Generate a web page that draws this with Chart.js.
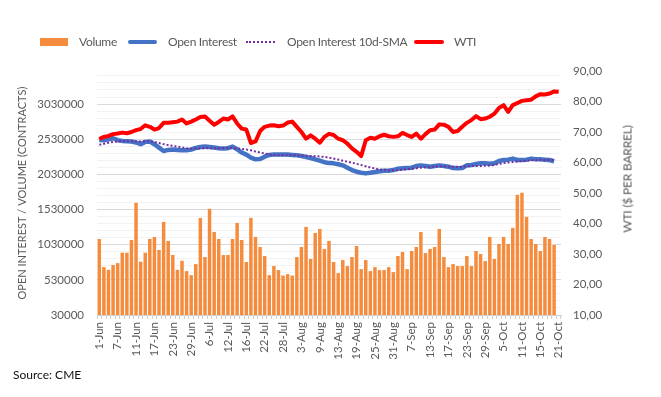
<!DOCTYPE html>
<html>
<head>
<meta charset="utf-8">
<script src="https://cdn.jsdelivr.net/npm/chart.js@4.4.1/dist/chart.umd.min.js"></script>
<style>
  body { margin: 0; background: #fff; font-family: Lato, "Liberation Sans", sans-serif; }
  #wrap { position: relative; width: 661px; height: 397px; }
  canvas { position: absolute; left: 0; top: 0; }
  .lg { position: absolute; font-size: 12px; letter-spacing: -0.3px; color: #595959; line-height: 14px; top: 35px; white-space: nowrap; }
  .sw { position: absolute; }
  #rtitle { position: absolute; left: 627px; top: 179px; font-size: 12px; color: #595959; white-space: nowrap;
            letter-spacing: -0.2px; transform: translate(-50%, -50%) rotate(-90deg); }
  #source { position: absolute; left: 13px; top: 367px; font-size: 12px; color: #111; }
</style>
</head>
<body>
<div id="wrap">
  <canvas id="chart" width="661" height="397"></canvas>
  <div class="sw" style="left:40px;top:38px;width:28px;height:8px;background:#f58c3d"></div>
  <div class="lg" style="left:79px">Volume</div>
  <div class="sw" style="left:128px;top:40px;width:29px;height:4px;border-radius:2px;background:#4472c4"></div>
  <div class="lg" style="left:168px">Open Interest</div>
  <div class="sw" style="left:246px;top:41px;width:29px;height:0;border-top:2px dotted #7030a0"></div>
  <div class="lg" style="left:287px">Open Interest 10d-SMA</div>
  <div class="sw" style="left:414px;top:40px;width:30px;height:4px;border-radius:2px;background:#ff0000"></div>
  <div class="lg" style="left:454px">WTI</div>
  <div id="rtitle">WTI ($ PER BARREL)</div>
  <div id="source">Source: CME</div>
</div>
<script>
// trading days 1-Jun .. 21-Oct
const dates = [
  '1-Jun','2-Jun','3-Jun','4-Jun','7-Jun','8-Jun','9-Jun','10-Jun','11-Jun','14-Jun','15-Jun','16-Jun','17-Jun','18-Jun',
  '21-Jun','22-Jun','23-Jun','24-Jun','25-Jun','28-Jun','29-Jun','30-Jun',
  '1-Jul','2-Jul','6-Jul','7-Jul','8-Jul','9-Jul','12-Jul','13-Jul','14-Jul','15-Jul','16-Jul','19-Jul','20-Jul','21-Jul',
  '22-Jul','23-Jul','26-Jul','27-Jul','28-Jul','29-Jul','30-Jul',
  '2-Aug','3-Aug','4-Aug','5-Aug','6-Aug','9-Aug','10-Aug','11-Aug','12-Aug','13-Aug','16-Aug','17-Aug','18-Aug','19-Aug',
  '20-Aug','23-Aug','24-Aug','25-Aug','26-Aug','27-Aug','30-Aug','31-Aug',
  '1-Sep','2-Sep','3-Sep','7-Sep','8-Sep','9-Sep','10-Sep','13-Sep','14-Sep','15-Sep','16-Sep','17-Sep','20-Sep','21-Sep',
  '22-Sep','23-Sep','24-Sep','27-Sep','28-Sep','29-Sep','30-Sep',
  '1-Oct','4-Oct','5-Oct','6-Oct','7-Oct','8-Oct','11-Oct','12-Oct','13-Oct','14-Oct','15-Oct','18-Oct','19-Oct','20-Oct','21-Oct'
];

// contracts
const volume = [
  1111000, 711000, 673000, 740000, 768000, 916000, 916000, 1097000, 1626000, 787000,
  916000, 1111000, 1140000, 954000, 1354000, 1083000, 883000, 673000, 801000, 654000,
  597000, 754000, 1411000, 854000, 1540000, 1211000, 1111000, 883000, 883000, 1111000,
  1340000, 1097000, 783000, 1411000, 1140000, 997000, 869000, 597000, 726000, 669000,
  591000, 611000, 591000, 854000, 997000, 1283000, 826000, 1197000, 1254000, 969000,
  1083000, 783000, 626000, 811000, 726000, 854000, 1011000, 683000, 811000, 654000,
  711000, 669000, 669000, 711000, 640000, 869000, 926000, 683000, 940000, 997000,
  1211000, 911000, 969000, 997000, 1254000, 854000, 711000, 754000, 726000, 726000,
  869000, 726000, 940000, 897000, 797000, 1140000, 826000, 1040000, 1140000, 1040000,
  1269000, 1740000, 1769000, 1426000, 1111000, 1040000, 940000, 1140000, 1111000, 1026000,
  null
];

const openInterest = [
  2520000, 2516000, 2530000, 2544000, 2516000, 2506000, 2501000, 2497000, 2483000, 2459000,
  2492000, 2497000, 2459000, 2411000, 2363000, 2378000, 2382000, 2378000, 2373000, 2373000,
  2382000, 2406000, 2420000, 2425000, 2420000, 2411000, 2402000, 2397000, 2402000, 2425000,
  2387000, 2340000, 2311000, 2268000, 2244000, 2249000, 2282000, 2306000, 2311000, 2311000,
  2311000, 2311000, 2306000, 2301000, 2292000, 2278000, 2263000, 2244000, 2225000, 2203000,
  2190000, 2187000, 2173000, 2158000, 2125000, 2091000, 2068000, 2054000, 2044000, 2054000,
  2063000, 2073000, 2082000, 2082000, 2091000, 2111000, 2116000, 2120000, 2125000, 2149000,
  2158000, 2149000, 2139000, 2149000, 2158000, 2149000, 2139000, 2120000, 2116000, 2120000,
  2158000, 2163000, 2177000, 2187000, 2187000, 2182000, 2187000, 2220000, 2234000, 2239000,
  2254000, 2234000, 2234000, 2239000, 2254000, 2244000, 2244000, 2239000, 2234000, 2216000,
  null
];

const oiSma10 = [
  2450000, 2465000, 2480000, 2492000, 2500000, 2505000, 2503000, 2500000, 2498000, 2497000,
  2499000, 2500000, 2490000, 2475000, 2460000, 2446000, 2435000, 2424000, 2414000, 2400000,
  2397000, 2397000, 2398000, 2400000, 2402000, 2402000, 2402000, 2405000, 2410000, 2405000,
  2398000, 2390000, 2382000, 2372000, 2355000, 2340000, 2328000, 2315000, 2306000, 2302000,
  2301000, 2301000, 2301000, 2300000, 2300000, 2296000, 2292000, 2288000, 2284000, 2278000,
  2268000, 2255000, 2240000, 2225000, 2210000, 2197000, 2180000, 2163000, 2145000, 2127000,
  2115000, 2100000, 2094000, 2088000, 2087000, 2090000, 2095000, 2103000, 2111000, 2118000,
  2125000, 2130000, 2135000, 2140000, 2143000, 2142000, 2140000, 2139000, 2139000, 2140000,
  2144000, 2148000, 2149000, 2150000, 2152000, 2156000, 2165000, 2177000, 2190000, 2200000,
  2206000, 2213000, 2220000, 2225000, 2230000, 2232000, 2234000, 2235000, 2235000, 2234000,
  null
];

// $ per barrel
const wti = [
  67.7, 68.4, 68.7, 69.3, 69.5, 69.8, 69.6, 70.0, 70.6, 71.0,
  72.2, 71.7, 70.8, 71.3, 73.0, 73.0, 73.2, 73.4, 74.1, 72.8,
  73.4, 74.1, 74.9, 75.1, 73.7, 72.4, 73.3, 74.4, 74.1, 75.1,
  72.8, 71.1, 70.8, 66.4, 66.9, 70.3, 71.7, 72.1, 72.2, 71.9,
  72.1, 73.1, 73.4, 71.7, 70.0, 67.8, 68.9, 67.8, 66.5, 68.4,
  69.4, 69.0, 67.8, 67.3, 66.2, 64.6, 63.5, 62.1, 67.3, 68.1,
  67.8, 68.6, 69.1, 68.6, 68.4, 68.6, 69.7, 69.0, 68.4, 69.5,
  67.8, 69.3, 70.6, 70.8, 72.5, 72.4, 71.7, 70.0, 70.3, 71.7,
  73.0, 73.9, 75.2, 74.2, 74.4, 75.0, 76.0, 77.9, 78.8, 76.6,
  78.8, 79.5, 80.2, 80.4, 80.6, 81.7, 82.4, 82.3, 82.6, 83.3,
  83.2
];

Chart.defaults.font.family = 'Lato, "Liberation Sans", sans-serif';
Chart.defaults.font.size = 11.5;
Chart.defaults.color = '#595959';

const ctx = document.getElementById('chart').getContext('2d');
new Chart(ctx, {
  type: 'bar',
  data: {
    labels: dates,
    datasets: [
      { label: 'WTI', type: 'line', data: wti, yAxisID: 'y1', order: 0,
        borderColor: '#ff0000', borderWidth: 4, pointRadius: 0, tension: 0, borderJoinStyle: 'round' },
      { label: 'Open Interest 10d-SMA', type: 'line', data: oiSma10, yAxisID: 'y', order: 1,
        borderColor: '#7030a0', borderWidth: 2, borderDash: [2, 2], pointRadius: 0, tension: 0 },
      { label: 'Open Interest', type: 'line', data: openInterest, yAxisID: 'y', order: 2,
        borderColor: '#4472c4', borderWidth: 4.5, pointRadius: 0, tension: 0, borderJoinStyle: 'round' },
      { label: 'Volume', data: volume, yAxisID: 'y', order: 3,
        backgroundColor: '#f58c3d', barPercentage: 0.76, categoryPercentage: 1.0 }
    ]
  },
  options: {
    responsive: false,
    animation: false,
    layout: { padding: { top: 71, left: 0, right: 0, bottom: 0 } },
    plugins: { legend: { display: false }, tooltip: { enabled: false } },
    scales: {
      x: {
        offset: true,
        grid: { display: true, drawOnChartArea: false, drawTicks: true, tickLength: 4, color: '#d0d0d0', offset: true },
        border: { color: '#d0d0d0' },
        ticks: {
          autoSkip: false, minRotation: 90, maxRotation: 90, padding: 3,
          callback: function (val, idx) { return idx % 4 === 0 ? this.getLabelForValue(val) : ''; }
        },
        afterFit: (s) => { s.height = 82; }
      },
      y: {
        position: 'left',
        min: 30000,
        max: 3500000,
        afterBuildTicks: (axis) => {
          const t = [];
          for (let v = 30000; v < 3500000; v += 100000) t.push({ value: v });
          axis.ticks = t;
        },
        grid: {
          drawTicks: false,
          color: (c) => ((c.tick.value - 30000) % 500000 === 0 ? '#d9d9d9' : '#f2f2f2')
        },
        border: { display: false },
        ticks: {
          autoSkip: false, padding: 13,
          callback: (v) => ((v - 30000) % 500000 === 0 ? String(v) : '')
        },
        title: {
          display: true, text: 'OPEN INTEREST / VOLUME (CONTRACTS)',
          font: { size: 11 }, padding: { top: 16, bottom: 0 }
        },
        afterFit: (s) => { s.width = 97; }
      },
      y1: {
        position: 'right',
        min: 10,
        max: 90,
        grid: { display: false, drawTicks: false },
        border: { display: false },
        ticks: {
          stepSize: 10, padding: 12,
          callback: (v) => v.toFixed(2).replace('.', ',')
        },
        afterFit: (s) => { s.width = 100; }
      }
    }
  }
});
</script>
</body>
</html>
